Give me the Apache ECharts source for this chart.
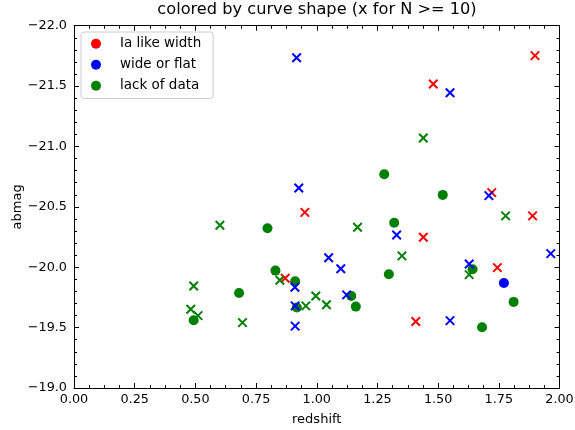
<!DOCTYPE html>
<html>
<head>
<meta charset="utf-8">
<script src="https://cdn.jsdelivr.net/npm/echarts@6/dist/echarts.min.js"></script>
<style>html,body{margin:0;padding:0;background:#fff}#c{width:575px;height:430px}</style>
</head>
<body>
<div id="c"></div>
<script>
var xTicks = [0, 0.25, 0.5, 0.75, 1.0, 1.25, 1.5, 1.75, 2.0];
var yTicks = [-22.0, -21.5, -21.0, -20.5, -20.0, -19.5, -19.0];

// crosses (N >= 10)
var redCross = [[0.951,-20.454],[1.889,-20.425],[1.439,-20.248],[1.744,-19.997],[1.408,-19.55],[1.480,-21.517],[1.899,-21.752],[1.721,-20.618],[0.870,-19.909]];
var blueCross = [[0.917,-21.735],[0.926,-20.656],[1.549,-21.445],[1.709,-20.593],[1.329,-20.267],[1.049,-20.079],[1.099,-19.988],[1.123,-19.771],[1.549,-19.558],[1.628,-20.027],[1.964,-20.113],[0.910,-19.834],[0.911,-19.68],[0.911,-19.512]];
var greenCross = [[1.439,-21.07],[1.778,-20.425],[1.168,-20.331],[1.351,-20.094],[1.628,-19.939],[0.996,-19.762],[0.955,-19.68],[1.040,-19.69],[0.601,-20.348],[0.493,-19.845],[0.848,-19.892],[0.481,-19.652],[0.511,-19.599],[0.694,-19.541]];
// dots (N < 10)
var redDot = [];
var blueDot = [[1.771,-19.87]];
var greenDot = [[1.278,-20.77],[1.519,-20.599],[1.319,-20.369],[1.297,-19.942],[1.642,-19.983],[1.142,-19.762],[1.161,-19.674],[1.811,-19.713],[1.681,-19.503],[0.797,-20.323],[0.830,-19.972],[0.911,-19.884],[0.680,-19.787],[0.918,-19.666],[0.493,-19.561]];

var FONT = 'DejaVu Sans';
var FS = 13.5;
var TFS = 12.8;
var crossPath = 'path://M0,0L10,10M10,0L0,10';
function fmtNum(v, d) {
  var s = Math.abs(v).toFixed(d);
  return (v < 0 ? '\u2212' : '') + s;
}
function axisBase(extra) {
  var a = {
    axisLine: {show: true, onZero: false, lineStyle: {color: '#000', width: 1}},
    axisTick: {show: true, inside: true, length: 5, lineStyle: {color: '#000', width: 1}},
    splitLine: {show: false},
    minorSplitLine: {show: false}
  };
  for (var k in extra) a[k] = extra[k];
  return a;
}
var xCommon = {type: 'value', min: xTicks[0], max: xTicks[xTicks.length-1], interval: 0.25};
var yCommon = {type: 'value', min: yTicks[0], max: yTicks[yTicks.length-1], interval: 0.5, inverse: true};

var chart = echarts.init(document.getElementById('c'), null, {renderer: 'canvas'});
chart.setOption({
  animation: false,
  backgroundColor: '#fff',
  title: {
    text: 'colored by curve shape (x for N >= 10)',
    left: 317, top: 2, padding: 0, textAlign: 'center',
    textStyle: {fontFamily: FONT, fontSize: 16.2, fontWeight: 'normal', color: '#000'}
  },
  legend: {
    data: ['Ia like width', 'wide or flat', 'lack of data'],
    orient: 'vertical', left: 81, top: 32,
    padding: [4, 12, 5, 10],
    itemGap: 5.5, itemWidth: 16, itemHeight: 10, icon: 'circle',
    borderColor: '#cccccc', borderWidth: 1, borderRadius: 3,
    backgroundColor: 'rgba(255,255,255,0.8)',
    textStyle: {fontFamily: FONT, fontSize: FS, color: '#000', padding: [0,0,0,11], lineHeight: 15.5}
  },
  grid: {left: 74, right: 15.5, top: 25.7, bottom: 42, containLabel: false, outerBoundsMode: 'none'},
  xAxis: [
    axisBase(Object.assign({}, xCommon, {
      position: 'bottom',
      minorTick: {show: true, splitNumber: 4, length: 3, lineStyle: {color: '#000'}},
      axisLabel: {margin: 5, fontFamily: FONT, fontSize: TFS, color: '#000', formatter: function (v) { return fmtNum(v, 2); }},
      name: 'redshift', nameLocation: 'middle', nameGap: 25, nameMoveOverlap: false,
      nameTextStyle: {fontFamily: FONT, fontSize: 13, color: '#000'}
    })),
    axisBase(Object.assign({}, xCommon, {
      position: 'top',
      minorTick: {show: true, splitNumber: 4, length: 3, lineStyle: {color: '#000'}},
      axisLabel: {show: false}
    }))
  ],
  yAxis: [
    axisBase(Object.assign({}, yCommon, {
      position: 'left',
      minorTick: {show: true, splitNumber: 5, length: 3, lineStyle: {color: '#000'}},
      axisLabel: {margin: 7, fontFamily: FONT, fontSize: TFS, color: '#000', formatter: function (v) { return fmtNum(v, 1); }},
      name: 'abmag', nameLocation: 'middle', nameGap: 50, nameMoveOverlap: false,
      nameTextStyle: {fontFamily: FONT, fontSize: 13, color: '#000'}
    })),
    axisBase(Object.assign({}, yCommon, {
      position: 'right',
      minorTick: {show: true, splitNumber: 5, length: 3, lineStyle: {color: '#000'}},
      axisLabel: {show: false}
    }))
  ],
  series: [
    {name: 'Ia like width', type: 'scatter', data: redDot, symbol: 'circle', symbolSize: 10, itemStyle: {color: '#ff0000', opacity: 1}},
    {name: 'wide or flat', type: 'scatter', data: blueDot, symbol: 'circle', symbolSize: 10, itemStyle: {color: '#0000ff', opacity: 1}},
    {name: 'lack of data', type: 'scatter', data: greenDot, symbol: 'circle', symbolSize: 10, itemStyle: {color: '#008000', opacity: 1}},
    {name: 'Ia x', type: 'scatter', data: redCross, symbol: crossPath, symbolSize: 8.5, itemStyle: {color: 'rgba(0,0,0,0)', borderColor: '#ff0000', borderWidth: 2, opacity: 1}},
    {name: 'wide x', type: 'scatter', data: blueCross, symbol: crossPath, symbolSize: 8.5, itemStyle: {color: 'rgba(0,0,0,0)', borderColor: '#0000ff', borderWidth: 2, opacity: 1}},
    {name: 'lack x', type: 'scatter', data: greenCross, symbol: crossPath, symbolSize: 8.5, itemStyle: {color: 'rgba(0,0,0,0)', borderColor: '#008000', borderWidth: 2, opacity: 1}}
  ]
});
</script>
</body>
</html>
